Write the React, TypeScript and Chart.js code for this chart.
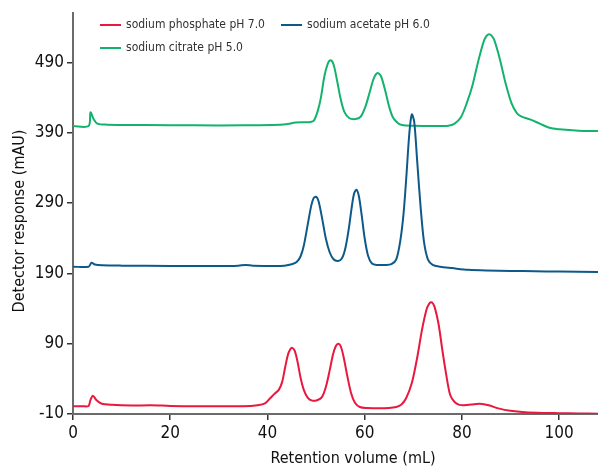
import React, { useEffect, useRef } from "react";
import { Chart, registerables } from "chart.js";

Chart.register(...registerables);

const FONT = '"Liberation Sans Narrow", "DejaVu Sans Condensed", "Roboto Condensed", sans-serif';

const seriesNames = ["sodium phosphate pH 7.0", "sodium acetate pH 6.0", "sodium citrate pH 5.0"];
const seriesColors = ["#e8183f", "#0d5a8a", "#13b36d"];

const xTitle = "Retention volume (mL)";
const yTitle = "Detector response (mAU)";

const xTicks = [0, 20, 40, 60, 80, 100];
const yTicks = [-10, 90, 190, 290, 390, 490];

const phosphate: [number, number][] = [
  [0, 1], [2, 1], [3.2, 1.5], [3.6, 10], [4.1, 16], [4.8, 10], [5.8, 5], [8, 3], [12, 2], [16, 2.5],
  [20, 1.5], [25, 1], [30, 1], [35, 1], [38, 2.5], [39.5, 5], [40.5, 12], [41.5, 19], [42.3, 24],
  [43, 35], [43.6, 55], [44.2, 74], [44.7, 82], [45.1, 84], [45.6, 80], [46.2, 64], [46.8, 42],
  [47.5, 24], [48.3, 13], [49.2, 9], [50.2, 9.5], [51.2, 14], [52, 28], [52.8, 52], [53.5, 75],
  [54.1, 87], [54.6, 90], [55.1, 86], [55.7, 70], [56.4, 45], [57.2, 20], [58, 6], [59, 0],
  [60.5, -1.5], [63, -2], [65, -1.5], [66.5, 0], [67.5, 3], [68.5, 12], [69.7, 34], [70.8, 70],
  [71.8, 110], [72.7, 138], [73.2, 146], [73.6, 149], [74, 147.5], [74.4, 142], [75.2, 118], [76, 80],
  [76.8, 45], [77.6, 17], [78.5, 7], [79.5, 3], [80.5, 2.5], [82, 3.5], [83.7, 4.5], [85.5, 2.5],
  [87.5, -2], [90, -5.5], [93, -7.5], [97, -8.5], [100, -8.8], [104, -9.3], [108, -9.5],
];

const acetate: [number, number][] = [
  [0, 199.5], [3.2, 199.5], [3.8, 205], [4.5, 202.5], [6, 201.5], [10, 201], [20, 200.5], [30, 200.5],
  [34, 201], [35.5, 202], [37, 201], [41.7, 200.5], [43.5, 201], [45, 203], [46, 206], [46.8, 214],
  [47.5, 230], [48.3, 260], [49, 286], [49.5, 297], [50, 299], [50.5, 293], [51.2, 270], [52, 240],
  [52.8, 220], [53.6, 210], [54.5, 207.5], [55.3, 211], [56, 225], [56.7, 252], [57.3, 282],
  [57.8, 303], [58.3, 309], [58.8, 300], [59.4, 272], [60, 240], [60.7, 215], [61.5, 204], [62.5, 202],
  [64.2, 202], [65.5, 203], [66.5, 210], [67.3, 235], [68, 275], [68.6, 330], [69.2, 390], [69.7, 416],
  [70.2, 405], [70.8, 350], [71.5, 285], [72.2, 235], [73, 210], [74, 202], [75.5, 199.5], [78, 197.5],
  [81.3, 195], [85, 194], [90, 193.5], [95, 193], [100, 192.5], [108, 192],
];

const citrate: [number, number][] = [
  [0, 399.5], [3.2, 399.5], [3.6, 419], [4.2, 410], [5, 403], [7, 401.5], [15, 401], [25, 400.5],
  [35, 400.5], [41, 401], [43.8, 402], [45.8, 404.5], [48.5, 405], [49.5, 407], [50.3, 420], [51, 440],
  [51.7, 470], [52.4, 488], [53, 493], [53.6, 487], [54.3, 465], [55, 440], [55.8, 420], [56.8, 411],
  [58.1, 409.5], [59.2, 413], [60.2, 428], [61, 447], [61.8, 466], [62.3, 473], [62.7, 475], [63.1, 473],
  [63.5, 468], [64.3, 448], [65, 428], [65.8, 412], [66.8, 404], [67.7, 401], [70, 400], [74, 399.5],
  [77.2, 400], [78.5, 403], [79.8, 412], [81, 432], [82.2, 458], [83.3, 490], [84.4, 518], [85, 527],
  [85.6, 530], [86.1, 528], [86.7, 521], [87.8, 495], [89, 460], [90.2, 432], [91.3, 418], [92.3, 413],
  [94, 409], [96, 403], [98, 397], [100, 395], [104, 393], [108, 392.5],
];

const decorPlugin = {
  id: "decor",
  afterDraw(chart: any) {
    const ctx = chart.ctx;
    const items = [
      { i: 0, x: 100, y: 25 },
      { i: 1, x: 281, y: 25 },
      { i: 2, x: 100, y: 48 },
    ];
    ctx.save();
    ctx.font = `12px ${FONT}`;
    ctx.textBaseline = "middle";
    ctx.textAlign = "left";
    for (const it of items) {
      ctx.strokeStyle = seriesColors[it.i];
      ctx.lineWidth = 2;
      ctx.beginPath();
      ctx.moveTo(it.x, it.y);
      ctx.lineTo(it.x + 21, it.y);
      ctx.stroke();
      ctx.fillStyle = "#333";
      ctx.fillText(seriesNames[it.i], it.x + 26, it.y);
    }
    ctx.font = `16px ${FONT}`;
    ctx.fillStyle = "#111";
    ctx.textAlign = "center";
    ctx.fillText(xTitle, 353, 459);
    ctx.translate(19.5, 221);
    ctx.rotate(-Math.PI / 2);
    ctx.fillText(yTitle, 0, 0);
    ctx.restore();
  },
};

export default function App() {
  const ref = useRef<HTMLCanvasElement>(null);
  useEffect(() => {
    document.body.style.margin = "0";
    const all = [phosphate, acetate, citrate];
    const chart = new Chart(ref.current!, {
      type: "line",
      data: {
        datasets: all.map((d, i) => ({
          label: seriesNames[i],
          data: d.map(([x, y]) => ({ x, y })),
          borderColor: seriesColors[i],
          backgroundColor: seriesColors[i],
          borderWidth: 2,
          pointRadius: 0,
          fill: false,
          tension: 0.3,
        })),
      },
      options: {
        responsive: false,
        animation: false,
        devicePixelRatio: 1,
        layout: { padding: { top: 13, right: 0, left: 0, bottom: 0 } },
        plugins: { legend: { display: false }, tooltip: { enabled: false } },
        scales: {
          x: {
            type: "linear",
            min: 0,
            max: 108,
            afterBuildTicks: (s: any) => {
              s.ticks = xTicks.map((v) => ({ value: v }));
            },
            afterFit: (s: any) => {
              s.height = 54;
            },
            grid: { drawOnChartArea: false, drawTicks: true, tickLength: 6, color: "#333", lineWidth: 1.5 },
            border: { display: true, color: "#6b6b6b", width: 2 },
            ticks: { font: { family: FONT, size: 17 }, color: "#111", padding: 3, maxRotation: 0 },
          },
          y: {
            type: "linear",
            min: -10,
            max: 560,
            afterBuildTicks: (s: any) => {
              s.ticks = yTicks.map((v) => ({ value: v }));
            },
            afterFit: (s: any) => {
              s.width = 73;
            },
            grid: { drawOnChartArea: false, drawTicks: true, tickLength: 6, color: "#333", lineWidth: 1.5 },
            border: { display: true, color: "#6b6b6b", width: 2 },
            ticks: { font: { family: FONT, size: 17 }, color: "#111", padding: 3 },
          },
        },
      },
      plugins: [decorPlugin],
    });
    return () => chart.destroy();
  }, []);
  return (
    <div style={{ width: 598, height: 468 }}>
      <canvas ref={ref} width={598} height={468} />
    </div>
  );
}
